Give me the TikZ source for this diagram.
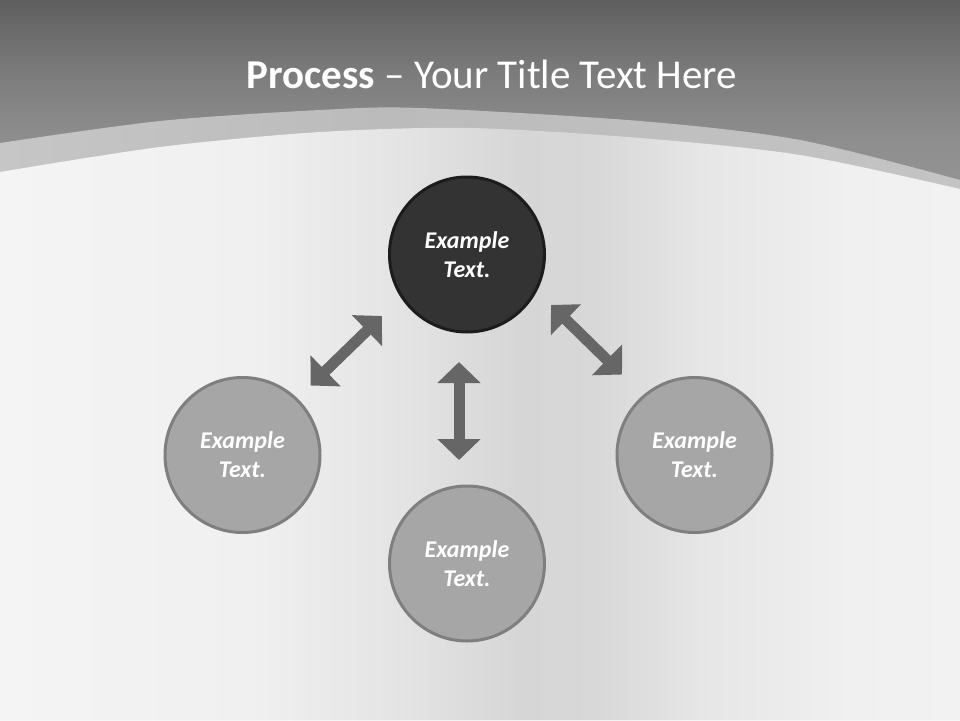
\documentclass[tikz,border=0pt]{standalone}
\usepackage{fontspec}
\setmainfont{Carlito}
\usetikzlibrary{arrows.meta}
\definecolor{topfill}{HTML}{333333}
\definecolor{topline}{HTML}{1C1C1C}
\definecolor{subfill}{HTML}{A6A6A6}
\definecolor{subline}{HTML}{7F7F7F}
\definecolor{arrowc}{HTML}{666666}
\definecolor{k0}{HTML}{C6C6C6}
\definecolor{k1}{HTML}{BBBBBB}
\definecolor{k2}{HTML}{C4C4C4}
\definecolor{h0}{HTML}{959595}
\definecolor{h1}{HTML}{8E8E8E}
\definecolor{h2}{HTML}{7E7E7E}
\definecolor{h3}{HTML}{5F5F5F}
\definecolor{b0}{HTML}{F4F4F4}
\definecolor{b1}{HTML}{F0F0F0}
\definecolor{b2}{HTML}{E4E4E4}
\definecolor{b3}{HTML}{D6D6D6}
\definecolor{b4}{HTML}{D8D8D8}
\definecolor{b5}{HTML}{E6E6E6}
\definecolor{b6}{HTML}{F0F0F0}
\definecolor{b7}{HTML}{F2F2F2}
\pgfdeclareverticalshading{hdrshade}{100bp}{color(0bp)=(h0); color(25bp)=(h0); color(40bp)=(h1); color(55bp)=(h2); color(75bp)=(h3); color(100bp)=(h3)}
\pgfdeclarehorizontalshading{bandshade}{100bp}{color(0bp)=(k0); color(25bp)=(k0); color(45bp)=(k1); color(75bp)=(k2); color(100bp)=(k2)}
\pgfdeclarehorizontalshading{bgshade}{100bp}{color(0bp)=(b0); color(25bp)=(b0); color(38bp)=(b1); color(45.8bp)=(b2); color(52.1bp)=(b3); color(56.25bp)=(b4); color(61.5bp)=(b5); color(69.3bp)=(b6); color(75bp)=(b7); color(100bp)=(b7)}
\tikzset{
  circbase/.style={circle, minimum size=155pt, inner sep=0pt, line width=3pt, align=center, text=white,
    font=\fontsize{24}{29}\selectfont\bfseries\itshape},
  topcirc/.style={circbase, fill=topfill, draw=topline},
  subcirc/.style={circbase, fill=subfill, draw=subline},
  blockarrow/.style={line width=11pt, draw=arrowc,
    {Triangle[width=42pt,length=21pt]}-{Triangle[width=42pt,length=21pt]}}
}
\begin{document}
\begin{tikzpicture}[x=1pt,y=-1pt]
\useasboundingbox (0,0) rectangle (960,720);
% header
\shade[shading=hdrshade] (0,0) rectangle (960,200);
% band
\shade[shading=bandshade] plot[smooth] coordinates {(0,143) (160,121) (320,110) (420,108) (640,121) (800,140) (960,180)} -- (960,720) -- (0,720) -- cycle;
% light area
\shade[shading=bgshade] plot[smooth] coordinates {(0,172) (160,147) (320,132) (470,128) (640,138) (800,155) (960,189)} -- (960,720) -- (0,720) -- cycle;
% title
\node[anchor=base, text=white, font=\fontsize{41}{50}\selectfont, inner sep=0pt] (title) at (492,88) {\textbf{Process} – Your Title Text Here};
% circles
\node[topcirc] (c1) at (467,254.5) {Example\\Text.};
\node[subcirc] (c2) at (242.5,455) {Example\\Text.};
\node[subcirc] (c3) at (467,563.5) {Example\\Text.};
\node[subcirc] (c4) at (694.5,455) {Example\\Text.};
% arrows
\coordinate (l1) at (382,316);
\coordinate (l2) at (310.5,385.5);
\coordinate (m1) at (459,362);
\coordinate (m2) at (459,460);
\coordinate (r1) at (551,305);
\coordinate (r2) at (622,374.5);
\draw[blockarrow] (l1) -- (l2);
\draw[blockarrow] (m1) -- (m2);
\draw[blockarrow] (r1) -- (r2);
\end{tikzpicture}
\end{document}
